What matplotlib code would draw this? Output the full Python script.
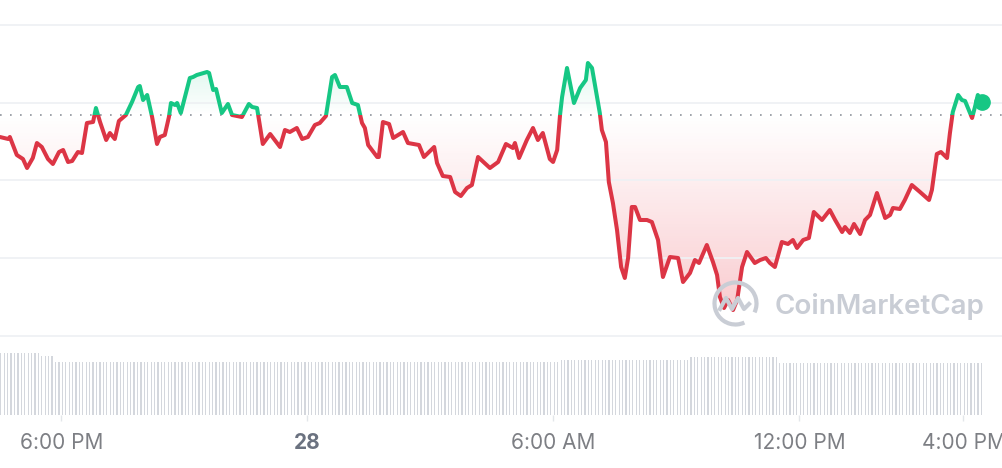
import numpy as np
import matplotlib.pyplot as plt
from matplotlib.patches import Rectangle, Arc
from matplotlib.path import Path

plt.rcParams['font.family'] = ['Inter', 'DejaVu Sans']

# time in hours after 16:30 on the 27th, price in chart units
hours = [0.00, 0.20, 0.24, 0.41, 0.56, 0.66, 0.80, 0.90, 1.02, 1.17,
         1.29, 1.44, 1.54, 1.66, 1.76, 1.90, 2.00, 2.12, 2.27, 2.34,
         2.44, 2.59, 2.68, 2.80, 2.90, 3.07, 3.22, 3.37, 3.41, 3.49,
         3.59, 3.71, 3.83, 3.90, 4.02, 4.12, 4.17, 4.27, 4.32, 4.41,
         4.63, 4.71, 4.80, 5.05, 5.10, 5.20, 5.27, 5.41, 5.56, 5.66,
         5.90, 6.07, 6.15, 6.27, 6.41, 6.59, 6.83, 6.95, 7.07, 7.24,
         7.37, 7.51, 7.68, 7.80, 7.95, 8.10, 8.17, 8.29, 8.46, 8.59,
         8.73, 8.83, 8.90, 8.98, 9.20, 9.24, 9.34, 9.49, 9.59, 9.83,
         9.95, 10.22, 10.34, 10.59, 10.66, 10.80, 10.98, 11.10, 11.24, 11.39,
         11.51, 11.66, 11.95, 12.15, 12.34, 12.51, 12.56, 12.66, 12.85, 13.00,
         13.12, 13.24, 13.41, 13.49, 13.59, 13.66, 13.71, 13.83, 14.00, 14.15,
         14.29, 14.34, 14.44, 14.63, 14.68, 14.78, 14.85, 14.95, 15.05, 15.15,
         15.24, 15.32, 15.41, 15.49, 15.61, 15.78, 15.90, 16.05, 16.17, 16.34,
         16.54, 16.66, 16.83, 16.95, 17.05, 17.24, 17.39, 17.49, 17.56, 17.66,
         17.76, 17.88, 17.98, 18.10, 18.22, 18.41, 18.54, 18.68, 18.78, 18.90,
         19.07, 19.22, 19.34, 19.44, 19.59, 19.73, 19.85, 20.05, 20.24, 20.37,
         20.54, 20.61, 20.73, 20.83, 20.98, 21.10, 21.22, 21.39, 21.59, 21.71,
         21.78, 21.95, 22.07, 22.24, 22.44, 22.66, 22.73, 22.85, 22.95, 23.10,
         23.17, 23.24, 23.37, 23.46, 23.54, 23.71, 23.78, 23.85, 23.95]
price = [199, 197, 199, 181, 177, 168, 178, 193, 189, 177,
         172, 184, 186, 174, 175, 184, 183, 213, 214, 228,
         214, 196, 203, 197, 215, 221, 234, 249, 250, 236,
         241, 219, 192, 199, 201, 219, 233, 231, 233, 223,
         258, 259, 261, 264, 263, 246, 247, 223, 232, 221,
         219, 232, 229, 228, 192, 202, 189, 206, 204, 208,
         197, 199, 211, 213, 220, 259, 261, 249, 249, 233,
         231, 213, 208, 191, 179, 179, 214, 212, 198, 204,
         193, 191, 179, 189, 173, 160, 159, 144, 140, 148,
         151, 179, 168, 174, 192, 188, 193, 178, 196, 208,
         196, 203, 177, 174, 186, 221, 239, 268, 233, 248,
         256, 273, 268, 223, 206, 194, 154, 133, 106, 69,
         58, 78, 129, 129, 116, 116, 114, 96, 59, 79,
         78, 54, 63, 76, 73, 91, 74, 61, 39, 28,
         36, 26, 36, 69, 84, 73, 76, 78, 73, 69,
         94, 92, 96, 88, 96, 98, 124, 116, 126, 116,
         104, 109, 103, 112, 102, 116, 121, 143, 118, 121,
         128, 127, 136, 151, 144, 136, 146, 182, 184, 178,
         203, 224, 241, 236, 235, 218, 229, 241, 234]
open_price = 221

# volume: (number of 5-minute bars, bar height)
vol_runs = [(12, 62), (4, 59), (148, 53), (38, 55), (26, 58), (60, 52)]
volume = np.repeat([v for n, v in vol_runs], [n for n, v in vol_runs])
vol_hours = np.arange(len(volume)) / 12 + 0.02

tick_hours = [1.5, 7.5, 13.5, 19.5, 23.5]
tick_labels = ['6:00 PM', '28', '6:00 AM', '12:00 PM', '4:00 PM']

green = '#16c784'
red = '#dc3545'
xlim = (0, 24.44)

fig = plt.figure(figsize=(10.02, 4.68), dpi=100)
ax = fig.add_axes([0, 128 / 468, 1, 340 / 468])
axv = fig.add_axes([0, 53 / 468, 1, 75 / 468])

ax.set_xlim(xlim)
ax.set_ylim(-4, 336)
ax.set_yticks([0, 78, 156, 233, 311])
ax.grid(axis='y', color='#eff1f4', lw=1.3)
ax.set_xticks([])
ax.tick_params(left=False, labelleft=False)
for s in ax.spines.values():
    s.set_visible(False)

t = np.array(hours)
p = np.array(price)

# gradient fills between line and opening price
def grad_fill(where, lo, hi, rgb, a_lo, a_hi):
    poly = ax.fill_between(t, p, open_price, where=where, interpolate=True)
    clip = Path.make_compound_path(*poly.get_paths())
    poly.remove()
    g = np.zeros((256, 1, 4))
    g[:, :, :3] = rgb
    g[:, 0, 3] = np.linspace(a_lo, a_hi, 256)
    im = ax.imshow(g, extent=(xlim[0], xlim[1], lo, hi), origin='lower',
                   aspect='auto', zorder=1)
    im.set_clip_path(clip, transform=ax.transData)

grad_fill(p <= open_price, p.min(), open_price, (0.92, 0.23, 0.29), 0.26, 0.0)
grad_fill(p >= open_price, open_price, p.max(), (0.09, 0.78, 0.52), 0.0, 0.14)

below = Rectangle((xlim[0], -1000), 100, open_price + 1000, transform=ax.transData)
above = Rectangle((xlim[0], open_price), 100, 2000, transform=ax.transData)
for col, rect in [(red, below), (green, above)]:
    ln, = ax.plot(t, p, color=col, lw=2.9, solid_joinstyle='round',
                  solid_capstyle='round', zorder=3)
    ln.set_clip_path(rect)

ax.axhline(open_price, color='#8d929b', lw=1.2, ls=(0, (1, 5)), zorder=2)
ax.plot(t[-1], p[-1], 'o', ms=11, color=green, zorder=4)

# volume bars
axv.bar(vol_hours, volume, width=0.03, color='#d4d7dd')
axv.set_xlim(xlim)
axv.set_ylim(0, 75)
axv.set_yticks([])
for s in axv.spines.values():
    s.set_visible(False)
axv.set_xticks(tick_hours)
axv.set_xticklabels(tick_labels)
axv.tick_params(axis='x', length=4, width=1, color='#e3e6ea', pad=9,
                labelsize=15, labelcolor='#7d7f84')
lbl = axv.get_xticklabels()[1]
lbl.set_fontweight('bold')
lbl.set_color('#6b7280')

# watermark
wm = '#c9cdd5'
fig.text(775 / 1002, 1 - 306 / 468, 'CoinMarketCap', color=wm, fontsize=20,
         fontweight='semibold', va='center', ha='left', zorder=10)
logo = fig.add_axes([708 / 1002, 1 - 331 / 468, 55 / 1002, 55 / 468])
logo.set_xlim(0, 55)
logo.set_ylim(0, 55)
logo.axis('off')
logo.add_patch(Arc((27.5, 27.5), 42, 42, theta1=-25, theta2=295, color=wm, lw=3))
logo.plot([12, 18, 24, 30, 36, 41], [22, 33, 22, 33, 22, 27], color=wm, lw=3,
          solid_joinstyle='round')

fig.savefig('out.png', dpi=100)
